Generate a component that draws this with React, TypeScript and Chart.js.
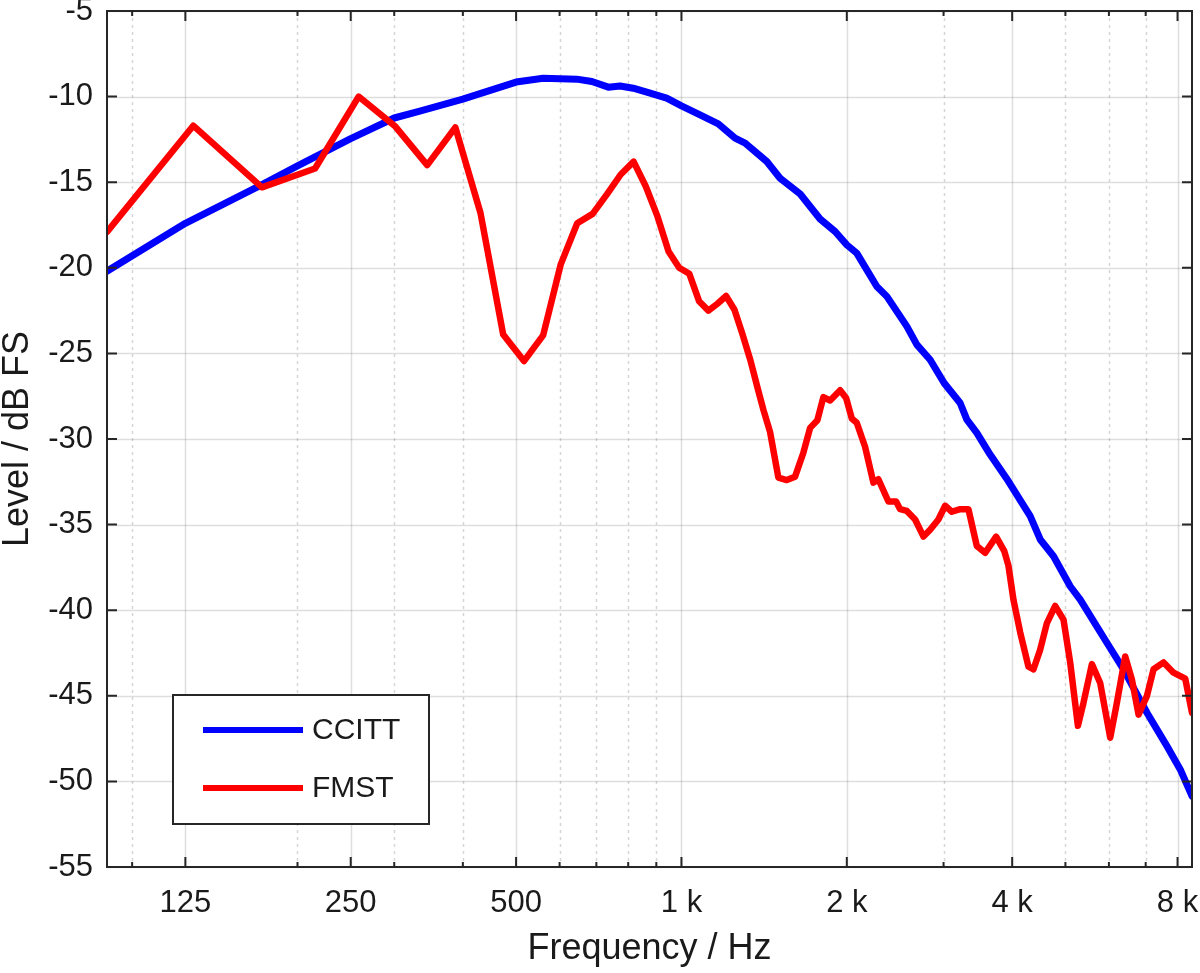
import React, { useEffect, useRef } from "react";
import { Chart, registerables } from "chart.js";

Chart.register(...registerables);

// CCITT reference spectrum (Hz, dB FS)
const ccittFreq = [
  90, 125, 172, 200, 250, 300, 334, 400, 427, 500, 560, 645, 687, 736, 773, 817,
  877, 940, 1000, 1081, 1167, 1252, 1306, 1430, 1512, 1645, 1788, 1904, 2000,
  2085, 2268, 2365, 2572, 2682, 2836, 3007, 3216, 3308, 3449, 3647, 3938, 4314,
  4499, 4757, 5101, 5320, 5950, 6379, 7038, 7653, 8091, 8500,
];
const ccittLevel = [
  -20.2, -17.4, -15.15, -14.05, -12.45, -11.25, -10.85, -10.15, -9.86, -9.15,
  -8.93, -8.98, -9.12, -9.45, -9.38, -9.51, -9.8, -10.09, -10.54, -11.07, -11.59,
  -12.43, -12.72, -13.79, -14.77, -15.69, -17.15, -17.88, -18.66, -19.14, -21.09,
  -21.67, -23.42, -24.49, -25.37, -26.73, -27.9, -28.87, -29.64, -30.91, -32.47,
  -34.5, -35.87, -36.85, -38.6, -39.38, -41.9, -43.46, -45.99, -47.94, -49.3,
  -50.86,
];

// FMST spectrum (Hz, dB FS)
const fmstFreq = [
  90, 129.2, 172.3, 215.3, 258.4, 301.5, 344.5, 387.6, 430.7, 473.7, 516.8,
  559.9, 602.9, 646, 689.1, 732.1, 775.2, 818.3, 861.3, 904.4, 947.5, 990.5,
  1033.6, 1076.7, 1119.7, 1162.8, 1205.9, 1248.9, 1292, 1335.1, 1378, 1410,
  1450, 1501, 1555, 1610, 1667, 1715, 1768, 1813, 1865, 1945, 1994, 2042, 2085,
  2159, 2236, 2283, 2381, 2459, 2501, 2572, 2663, 2758, 2836, 2936, 3020, 3106,
  3216, 3330, 3449, 3571, 3740, 3870, 3938, 4022, 4137, 4283, 4374, 4499, 4627,
  4790, 4960, 5101, 5269, 5394, 5587, 5785, 6033, 6205, 6424, 6608, 6794, 7038,
  7235, 7545, 7868, 8263, 8500,
];
const fmstLevel = [
  -17.9, -11.7, -15.3, -14.2, -10.0, -11.75, -14.0, -11.8, -16.8, -23.9, -25.45,
  -23.95, -19.8, -17.4, -16.85, -15.7, -14.55, -13.8, -15.25, -17.0, -19.05,
  -20.0, -20.35, -21.95, -22.5, -22.1, -21.65, -22.45, -23.9, -25.4, -27.1,
  -28.3, -29.6, -32.25, -32.4, -32.2, -30.8, -29.35, -28.9, -27.55, -27.75,
  -27.15, -27.6, -28.8, -29.05, -30.45, -32.55, -32.35, -33.65, -33.65, -34.1,
  -34.2, -34.7, -35.7, -35.3, -34.7, -33.9, -34.25, -34.1, -34.1, -36.25,
  -36.65, -35.7, -36.55, -37.4, -39.4, -41.3, -43.3, -43.45, -42.3, -40.75,
  -39.75, -40.55, -43.05, -46.75, -45.4, -43.15, -44.25, -47.45, -45.4, -42.7,
  -44.05, -46.1, -45.0, -43.45, -43.05, -43.65, -44.0, -46.0,
];

const gridFreqs = [
  100, 125, 200, 250, 300, 400, 500, 600, 700, 800, 900, 1000, 2000, 3000, 4000,
  5000, 6000, 7000, 8000,
];
const labelFreqs = [125, 250, 500, 1000, 2000, 4000, 8000];
const freqLabels = ["125", "250", "500", "1 k", "2 k", "4 k", "8 k"];

const FONT = "'Liberation Sans', Arial, Helvetica, sans-serif";
const TEXT = "#1a1a1a";
const AXIS = "#262626";

const framePlugin = {
  id: "frame",
  beforeDatasetsDraw(chart: any) {
    const { ctx, chartArea: a, scales } = chart;
    ctx.save();
    ctx.lineWidth = 1.5;
    ctx.strokeStyle = "rgba(0,0,0,0.13)";
    for (const t of scales.y.ticks) {
      const py = Math.round(scales.y.getPixelForValue(t.value)) + 0.5;
      ctx.beginPath();
      ctx.moveTo(a.left, py);
      ctx.lineTo(a.right, py);
      ctx.stroke();
    }
    for (const f of gridFreqs) {
      const px = Math.round(scales.x.getPixelForValue(f)) + 0.5;
      ctx.setLineDash(labelFreqs.includes(f) ? [] : [3, 4]);
      ctx.strokeStyle = labelFreqs.includes(f) ? "rgba(0,0,0,0.13)" : "rgba(0,0,0,0.16)";
      ctx.beginPath();
      ctx.moveTo(px, a.top);
      ctx.lineTo(px, a.bottom);
      ctx.stroke();
    }
    ctx.restore();
  },
  afterDraw(chart: any) {
    const { ctx, chartArea: a, scales } = chart;
    ctx.save();
    ctx.strokeStyle = AXIS;
    ctx.lineWidth = 2;
    // inward tick marks
    for (const f of gridFreqs) {
      const px = scales.x.getPixelForValue(f);
      const len = labelFreqs.includes(f) ? 10 : 5;
      ctx.beginPath();
      ctx.moveTo(px, a.bottom);
      ctx.lineTo(px, a.bottom - len);
      ctx.moveTo(px, a.top);
      ctx.lineTo(px, a.top + len);
      ctx.stroke();
    }
    for (const t of scales.y.ticks) {
      const py = scales.y.getPixelForValue(t.value);
      ctx.beginPath();
      ctx.moveTo(a.left, py);
      ctx.lineTo(a.left + 10, py);
      ctx.moveTo(a.right, py);
      ctx.lineTo(a.right - 10, py);
      ctx.stroke();
    }
    ctx.strokeRect(a.left, a.top, a.right - a.left, a.bottom - a.top);

    // legend
    const bx = a.left + 66;
    const by = a.bottom - 172;
    ctx.fillStyle = "#ffffff";
    ctx.fillRect(bx, by, 256, 129);
    ctx.strokeRect(bx, by, 256, 129);
    ctx.font = `30px ${FONT}`;
    ctx.textBaseline = "middle";
    chart.data.datasets.forEach((ds: any, i: number) => {
      const y = by + 35 + i * 58;
      ctx.strokeStyle = ds.borderColor;
      ctx.lineWidth = 6;
      ctx.beginPath();
      ctx.moveTo(bx + 30, y);
      ctx.lineTo(bx + 130, y);
      ctx.stroke();
      ctx.fillStyle = TEXT;
      ctx.fillText(ds.label, bx + 139, y + 1);
    });
    ctx.restore();
  },
};

const App: React.FC = () => {
  const canvasRef = useRef<HTMLCanvasElement>(null);

  useEffect(() => {
    if (!canvasRef.current) return;
    const ctx = canvasRef.current.getContext("2d");
    if (!ctx) return;

    const chart = new Chart(ctx, {
      type: "line",
      data: {
        datasets: [
          {
            label: "CCITT",
            data: ccittFreq.map((f, i) => ({ x: f, y: ccittLevel[i] })),
            borderColor: "#0000ff",
            borderWidth: 7,
            pointRadius: 0,
            tension: 0,
            borderJoinStyle: "round",
            borderCapStyle: "round",
            order: 1,
          },
          {
            label: "FMST",
            data: fmstFreq.map((f, i) => ({ x: f, y: fmstLevel[i] })),
            borderColor: "#ff0000",
            borderWidth: 6.5,
            pointRadius: 0,
            tension: 0,
            borderJoinStyle: "round",
            borderCapStyle: "round",
            order: 0,
          },
        ],
      },
      options: {
        animation: false,
        responsive: true,
        maintainAspectRatio: false,
        layout: { padding: { top: 11, right: 8, left: 0, bottom: 0 } },
        plugins: { legend: { display: false }, tooltip: { enabled: false } },
        scales: {
          x: {
            type: "logarithmic",
            min: 90,
            max: 8500,
            grid: { display: false, drawTicks: false },
            border: { display: false },
            afterBuildTicks: (s: any) => {
              s.ticks = gridFreqs.map((v) => ({ value: v }));
            },
            afterFit: (s: any) => {
              s.height = 106;
              s.paddingLeft = 0;
              s.paddingRight = 0;
            },
            ticks: {
              autoSkip: false,
              maxRotation: 0,
              padding: 18,
              color: TEXT,
              font: { family: FONT, size: 31 },
              callback: (v: any) => {
                const i = labelFreqs.indexOf(Number(v));
                return i >= 0 ? freqLabels[i] : "";
              },
            },
            title: {
              display: true,
              text: "Frequency / Hz",
              color: TEXT,
              font: { family: FONT, size: 36 },
              padding: { top: 0, bottom: 2 },
            },
          },
          y: {
            min: -55,
            max: -5,
            grid: { display: false, drawTicks: false },
            border: { display: false },
            afterFit: (s: any) => {
              s.width = 107;
              s.paddingTop = 0;
              s.paddingBottom = 0;
            },
            ticks: {
              stepSize: 5,
              padding: 14,
              color: TEXT,
              font: { family: FONT, size: 31 },
            },
            title: {
              display: true,
              text: "Level / dB FS",
              color: TEXT,
              font: { family: FONT, size: 36, lineHeight: 1.0 },
              padding: 0,
            },
          },
        },
      },
      plugins: [framePlugin],
    });

    return () => {
      chart.destroy();
    };
  }, []);

  return (
    <div style={{ position: "absolute", left: 0, top: 0, width: 1200, height: 973, background: "#fff" }}>
      <canvas ref={canvasRef} />
    </div>
  );
};

export default App;
